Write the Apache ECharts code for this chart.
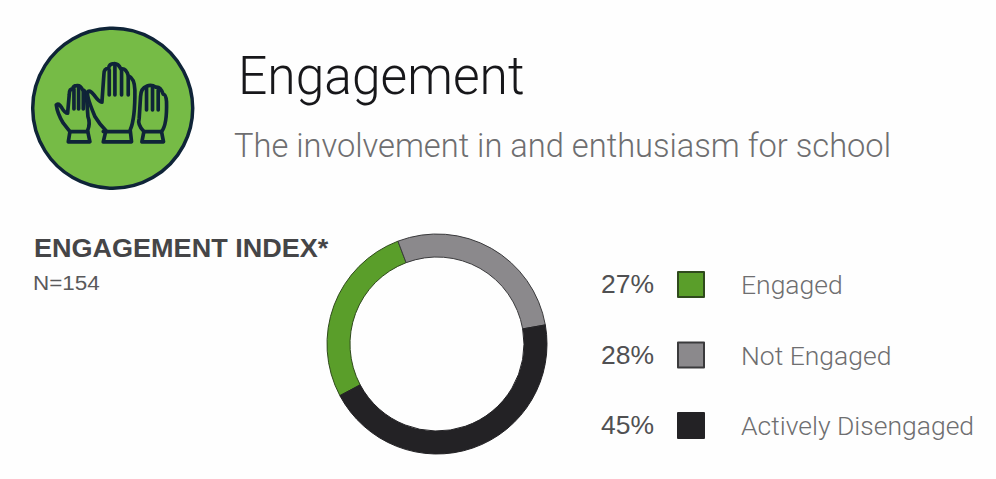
<!DOCTYPE html>
<html>
<head>
<meta charset="utf-8">
<title>Engagement</title>
<style>
  html, body { margin: 0; padding: 0; background: #fefefe; }
  #chart { width: 996px; height: 479px; }
</style>
<script src="https://cdn.jsdelivr.net/npm/echarts@6/dist/echarts.min.js"></script>
</head>
<body>
<div id="chart"></div>
<script>
var categories = ['Engaged', 'Not Engaged', 'Actively Disengaged'];
var values = [27, 28, 45];
var colors = ['#5a9e2a', '#8b898c', '#232225'];
var borders = ['#2f4a1c', '#3a3a3c', '#232225'];

var thinFont = 'Roboto, Lato, "Open Sans", sans-serif';
var boldFont = '"Liberation Sans", sans-serif';
var ink = '#17171a';
var grey = '#6e6e70';

// hand icon outlines, drawn in a 3x box and scaled down
var hands = [
  'M250 381 L335 381 L331 345 Q346 310 345 225 Q344 190 325 182 Q318 158 303 162 Q295 145 282 146 Q268 146 266 160 Q252 160 252 178 L246 262 Q238 262 222 240 Q208 222 203 232 Q200 245 225 305 Q240 330 258 347 Z',
  'M250 350 L331 350 M268 165 L268 240 M285 150 L285 240 M305 165 L305 240 M325 185 L325 240',
  'M145 381 L210 381 L203 347 Q212 325 204 305 L200 250 Q198 225 188 225 Q182 210 170 212 Q160 212 158 222 Q148 222 148 238 L143 295 Q135 295 125 278 Q115 262 109 270 Q112 295 130 325 L150 350 Z',
  'M150 350 L203 350 M162 222 L162 282 M176 214 L176 282 M190 228 L190 282',
  'M366 381 L431 381 L425 350 Q442 330 440 260 Q438 238 430 238 Q422 215 408 217 Q395 208 380 214 Q363 220 362 245 L358 310 Q352 330 372 350 Z',
  'M372 350 L425 350 M380 218 L380 285 M398 214 L398 285 M415 225 L415 285'
];

var handShapes = hands.map(function(d, i) {
  var shapeName = 'hand' + i;
  echarts.graphic.registerShape(shapeName, echarts.graphic.extendPath(d, {}));
  return {
    type: shapeName,
    x: 20, y: 15, scaleX: 1 / 3, scaleY: 1 / 3,
    style: { fill: null, stroke: '#0f2438', lineWidth: 11, lineJoin: 'round', lineCap: 'round' }
  };
});

var percentLabels = values.map(function(v, i) {
  return {
    type: 'text', left: 601, top: [270, 341, 411][i],
    style: { text: v + '%', fill: '#505052', fontSize: 26.5, fontFamily: boldFont }
  };
});

var chart = echarts.init(document.getElementById('chart'), null, { renderer: 'svg' });
chart.setOption({
  animation: false,
  backgroundColor: '#fefefe',
  legend: {
    orient: 'vertical',
    left: 677,
    top: 271,
    itemWidth: 26,
    itemHeight: 25,
    itemGap: 43.5,
    padding: 0,
    icon: 'rect',
    data: categories,
    textStyle: { color: grey, fontSize: 26.5, fontFamily: thinFont, fontWeight: 300, padding: [0, 0, 0, 32] }
  },
  series: [{
    type: 'pie',
    center: [437, 344],
    radius: [87, 110],
    startAngle: 208,
    clockwise: true,
    silent: true,
    label: { show: false },
    labelLine: { show: false },
    data: categories.map(function(name, i) {
      return {
        name: name,
        value: values[i],
        itemStyle: { color: colors[i], borderColor: borders[i], borderWidth: 1 }
      };
    })
  }],
  graphic: [
    { type: 'circle', shape: { cx: 112.7, cy: 108.3, r: 80 }, style: { fill: '#76bb46', stroke: '#0f2438', lineWidth: 3.5 } }
  ].concat(handShapes).concat(percentLabels).concat([
    { type: 'text', x: 238, y: 49, scaleX: 0.955, style: { text: 'Engagement', fill: ink, fontSize: 54, fontWeight: 300, fontFamily: thinFont } },
    { type: 'text', x: 234, y: 128, scaleX: 0.96, style: { text: 'The involvement in and enthusiasm for school', fill: grey, fontSize: 34, fontWeight: 300, fontFamily: thinFont } },
    { type: 'text', x: 34, y: 235, scaleX: 1.06, style: { text: 'ENGAGEMENT INDEX*', fill: '#454547', fontSize: 25.5, fontWeight: 'bold', fontFamily: boldFont } },
    { type: 'text', x: 33, y: 272, scaleX: 1.07, style: { text: 'N=154', fill: '#59595b', fontSize: 21, fontFamily: boldFont } }
  ])
});
window.addEventListener('resize', function() { chart.resize(); });
</script>
</body>
</html>
